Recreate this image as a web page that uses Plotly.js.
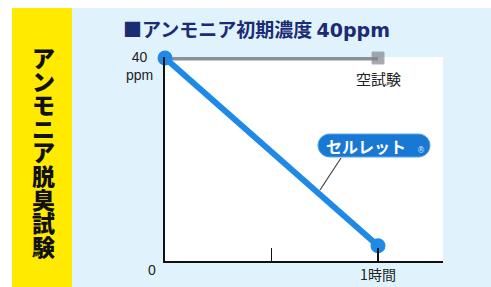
<!DOCTYPE html>
<html><head><meta charset="utf-8">
<script src="https://cdn.plot.ly/plotly-3.0.1.min.js"></script>
<style>html,body{margin:0;padding:0;background:#fff}#c{width:491px;height:287px}</style>
</head><body><div id="c"></div>
<script>
// ---- data ----
const hours = [0, 1];
const blankTest = [40, 40];          // 空試験 (ppm)
const cellret = [40, 3];             // セルレット (ppm)
const xTickVals = [0.5, 1];
const xTickText = ["", "1時間"];
const titleMain = "■アンモニア初期濃度 ";
const titleConc = "40ppm";
const sideTitle = "アンモニア脱臭試験";
const blankName = "空試験";
const cellretName = "セルレット";

// ---- layout helpers (pixel -> paper) ----
const W = 491, H = 287, L = 165, R = 48, T = 57, B = 26;
const PW = W - L - R, PH = H - T - B;
const px = x => (x - L) / PW;
const py = y => (H - B - y) / PH;

const FONT = "Noto Sans CJK JP";
const shapes = [
  {type:'rect', xref:'paper', yref:'paper', x0:px(-5), x1:px(W+5), y0:py(8), y1:py(-5), fillcolor:'#ffffff', line:{width:0}},
  {type:'rect', xref:'paper', yref:'paper', x0:px(-5), x1:px(12), y0:py(H+5), y1:py(-5), fillcolor:'#ffffff', line:{width:0}},
  {type:'rect', xref:'paper', yref:'paper', x0:px(12), x1:px(72), y0:py(H+5), y1:py(8), fillcolor:'#ffea00', line:{width:0}},
  // leader line
  {type:'line', xref:'paper', yref:'paper', x0:px(341), y0:py(158), x1:px(320), y1:py(190), line:{color:'#444', width:1.2}}
];
// pill shape
(function(){
  const x0=318,x1=430,y0=134,y1=157,r=(y1-y0)/2;
  const k=0.5523*r;
  const P=(x,y)=>px(x)+','+py(y);
  const d='M'+P(x0+r,y0)+' L'+P(x1-r,y0)+
    ' C'+P(x1-r+k,y0)+' '+P(x1,y0+r-k)+' '+P(x1,y0+r)+
    ' C'+P(x1,y0+r+k)+' '+P(x1-r+k,y1)+' '+P(x1-r,y1)+
    ' L'+P(x0+r,y1)+
    ' C'+P(x0+r-k,y1)+' '+P(x0,y0+r+k)+' '+P(x0,y0+r)+
    ' C'+P(x0,y0+r-k)+' '+P(x0+r-k,y0)+' '+P(x0+r,y0)+' Z';
  shapes.push({type:'path', xref:'paper', yref:'paper', path:d, fillcolor:'#1878d4', line:{color:'#5aa8ee', width:1}});
})();

const annotations = [
  {xref:'paper', yref:'paper', x:px(121), y:py(28), xanchor:'left', yanchor:'middle', showarrow:false,
   text:titleMain + '<span style="font-family:\'DejaVu Sans\'">' + titleConc + '</span>',
   font:{family:FONT, size:19, color:'#1c2c74', weight:'bold'}},
  {xref:'paper', yref:'paper', x:px(139), y:py(66), xanchor:'center', yanchor:'middle', showarrow:false,
   text:'40<br>ppm', font:{family:'Liberation Sans', size:14, color:'#222'}},
  {xref:'paper', yref:'paper', x:px(152), y:py(270), xanchor:'center', yanchor:'middle', showarrow:false,
   text:'0', font:{family:'Liberation Sans', size:14, color:'#222'}},
  {xref:'paper', yref:'paper', x:px(378), y:py(79), xanchor:'center', yanchor:'middle', showarrow:false,
   text:blankName, font:{family:FONT, size:15, color:'#222'}},
  {xref:'paper', yref:'paper', x:px(366), y:py(145.5), xanchor:'center', yanchor:'middle', showarrow:false,
   text:cellretName, font:{family:FONT, size:16, color:'#ffffff', weight:'bold'}},
  {xref:'paper', yref:'paper', x:px(421), y:py(150), xanchor:'center', yanchor:'middle', showarrow:false,
   text:'®', font:{family:'DejaVu Sans', size:8, color:'#cfe6fb'}}
];
const chars = Array.from(sideTitle);
chars.forEach((ch,i)=>{
  annotations.push({xref:'paper', yref:'paper', x:px(43), y:py(57 + i*23.6), xanchor:'center', yanchor:'middle',
    showarrow:false, text:ch, font:{family:FONT, size:23, color:'#111', weight:900}});
});

const traces = [
  {x:hours, y:blankTest, mode:'lines+markers', line:{color:'#8a9096', width:5},
   marker:{symbol:['square','square'], size:[0,12], color:'#80868c'}, cliponaxis:false, hoverinfo:'skip'},
  {x:hours, y:cellret, mode:'lines+markers', line:{color:'#1e8ae6', width:6},
   marker:{size:15, color:'#1e8ae6'}, cliponaxis:false, hoverinfo:'skip'}
];

const layout = {
  width:W, height:H, margin:{l:L, r:R, t:T, b:B, pad:0},
  paper_bgcolor:'#e0f2fc', plot_bgcolor:'#ffffff', showlegend:false,
  xaxis:{range:[0, PW/213], showgrid:false, zeroline:false, showline:true, linecolor:'#111', linewidth:2,
    tickmode:'array', tickvals:xTickVals, ticktext:xTickText, ticks:'inside', ticklen:13, tickwidth:1.5, tickcolor:'#111',
    tickfont:{family:FONT, size:14, color:'#222'}, fixedrange:true},
  yaxis:{range:[0, 40*PH/203], showgrid:false, zeroline:false, showline:true, linecolor:'#111', linewidth:2,
    showticklabels:false, ticks:'', fixedrange:true},
  shapes, annotations
};
Plotly.newPlot('c', traces, layout, {staticPlot:true});
</script></body></html>
